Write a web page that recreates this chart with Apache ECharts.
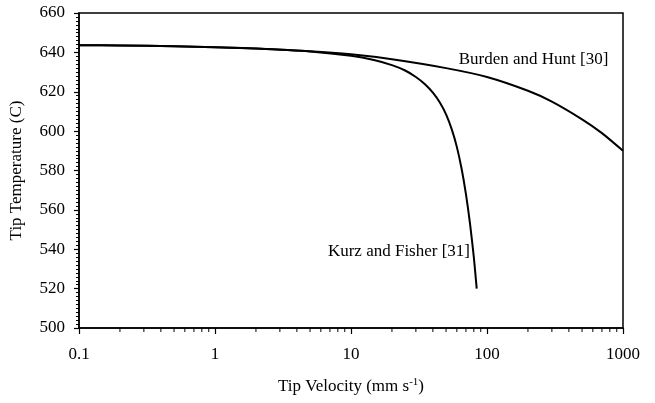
<!DOCTYPE html>
<html><head><meta charset="utf-8">
<script src="https://cdn.jsdelivr.net/npm/echarts@6/dist/echarts.min.js"></script>
<style>html,body{margin:0;padding:0;background:#fff}#c{width:655px;height:403px}</style>
</head><body><div id="c"></div>
<script>
const burdenV = [0.1, 0.2, 0.5, 1, 2, 5, 10, 20, 50, 100, 200, 300, 500, 700, 1000];
const burdenT = [643.6, 643.5, 643.1, 642.6, 642.0, 640.6, 639.0, 636.5, 632, 627.5, 620.5, 615, 606, 599, 590];
const kurzV = [0.1, 0.2, 0.5, 1, 2, 5, 10, 15, 20, 25, 30, 35, 40, 45, 50, 55, 60, 65, 70, 75, 80, 84];
const kurzT = [643.6, 643.5, 643.1, 642.6, 642.0, 640.5, 638.3, 636, 633.5, 630.8, 627.5, 623.8, 619.5, 614.5, 608.5, 601, 592, 581, 568, 553, 536, 520];
const xMinorTicks = [];
[0.1, 1, 10, 100].forEach(d => { for (let k = 2; k <= 9; k++) xMinorTicks.push(+(d * k).toPrecision(3)); });
const labels = [
  {text: 'Burden and Hunt [30]', v: 780, t: 636.6, align: 'right'},
  {text: 'Kurz and Fisher [31]', v: 75, t: 538.6, align: 'right'}
];
const font = '"Liberation Serif", "Times New Roman", serif';
const chart = echarts.init(document.getElementById('c'));
chart.setOption({
  animation: false,
  grid: {left: 79, right: 32, top: 13, bottom: 75, show: true, borderColor: '#000', borderWidth: 1.5, backgroundColor: 'transparent'},
  xAxis: {
    type: 'log', logBase: 10, min: 0.1, max: 1000,
    name: 'Tip Velocity (mm s{sup|-1})', nameLocation: 'middle', nameGap: 49,
    nameTextStyle: {fontFamily: font, fontSize: 17, color: '#000', rich: {sup: {fontFamily: font, fontSize: 11, verticalAlign: 'top', padding: [0,0,8,0]}}},
    axisLine: {lineStyle: {color: '#000', width: 1.5}},
    axisTick: {show: true, length: 6, lineStyle: {color: '#000', width: 1.2}},
    axisLabel: {fontFamily: font, fontSize: 17, color: '#000', margin: 18, formatter: v => String(+v.toPrecision(3))},
    splitLine: {show: false}
  },
  yAxis: {
    type: 'value', min: 500, max: 660, interval: 20,
    name: 'Tip Temperature (C)', nameLocation: 'middle', nameGap: 54,
    nameTextStyle: {fontFamily: font, fontSize: 17, color: '#000'},
    axisLine: {lineStyle: {color: '#000', width: 1.5}},
    axisTick: {show: true, length: 5, lineStyle: {color: '#000', width: 1.2}},
    minorTick: {show: true, splitNumber: 10, length: 3, lineStyle: {color: '#000', width: 1}},
    axisLabel: {fontFamily: font, fontSize: 17, color: '#000', margin: 14},
    splitLine: {show: false}
  },
  series: [
    {type: 'line', data: burdenV.map((v, i) => [v, burdenT[i]]), smooth: 0.25, showSymbol: false, lineStyle: {color: '#000', width: 2}},
    {type: 'line', data: kurzV.map((v, i) => [v, kurzT[i]]), smooth: 0.25, showSymbol: false, lineStyle: {color: '#000', width: 2}},
    {type: 'custom', clip: false, silent: true, data: xMinorTicks.map(v => [v, 500]),
      renderItem: (params, api) => {
        const p = api.coord([api.value(0), api.value(1)]);
        return {type: 'line', shape: {x1: p[0], y1: p[1], x2: p[0], y2: p[1] + 4}, style: {stroke: '#000', lineWidth: 1}};
      }}
  ]
});
chart.setOption({
  graphic: labels.map(l => {
    const p = chart.convertToPixel({gridIndex: 0}, [l.v, l.t]);
    return {type: 'text', x: p[0], y: p[1], style: {text: l.text, fontFamily: font, fontSize: 17, fill: '#000', align: l.align, verticalAlign: 'middle'}};
  })
});
</script></body></html>
